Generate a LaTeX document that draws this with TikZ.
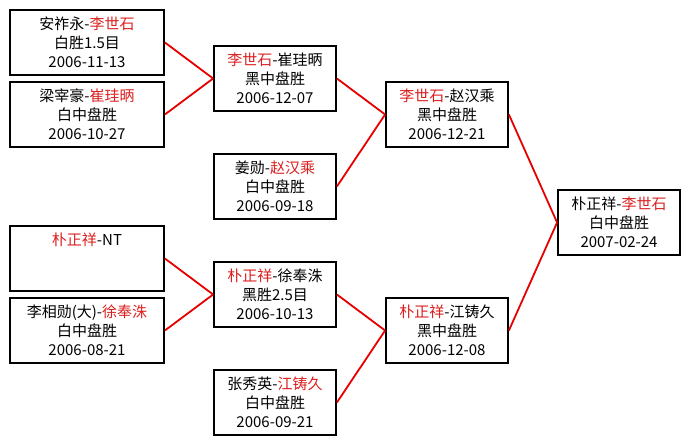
\documentclass[tikz,border=0pt]{standalone}
\usepackage{fontspec}
\usepackage{xcolor}
\usepackage{tikz}
\usetikzlibrary{positioning}
\setmainfont{Noto Sans CJK SC}
\definecolor{winnerred}{RGB}{220, 30, 30}
\definecolor{linkred}{RGB}{230, 0, 0}
\newcommand{\winner}[1]{\textcolor{winnerred}{#1}}

\begin{document}
\begin{tikzpicture}[x=1pt,y=1pt,
    game/.style={draw=black,line width=1.8pt,inner sep=0pt,align=center,
      minimum width=122pt,minimum height=65pt,font=\fontsize{15}{19}\selectfont},
    firstgame/.style={game,minimum width=154pt},
    link/.style={draw=linkred,line width=1.8pt}]
    \useasboundingbox (0,0) rectangle (691,445);

    % Round 1
    \node[firstgame] (ahn) at (87,402.5) {安祚永-\winner{李世石}\\白胜1.5目\\2006-11-13};
    \node[firstgame] (liang) at (87,330.5) {梁宰豪-\winner{崔珪昞}\\白中盘胜\\2006-10-27};
    \node[firstgame] (park) at (87,186.5) {\winner{朴正祥}-NT\\\mbox{}\\\mbox{}};
    \node[firstgame] (lee) at (87,114.5) {李相勋(大)-\winner{徐奉洙}\\白中盘胜\\2006-08-21};

    % Round 2
    \node[game] (leechoi) at (275,366.5) {\winner{李世石}-崔珪昞\\黑中盘胜\\2006-12-07};
    \node[game] (jiang) at (275,258.5) {姜勋-\winner{赵汉乘}\\白中盘胜\\2006-09-18};
    \node[game] (parkseo) at (275,150.5) {\winner{朴正祥}-徐奉洙\\黑胜2.5目\\2006-10-13};
    \node[game] (zhang) at (275,42.5) {张秀英-\winner{江铸久}\\白中盘胜\\2006-09-21};

    % Semi-finals
    \node[game] (leezhao) at (447,330.5) {\winner{李世石}-赵汉乘\\黑中盘胜\\2006-12-21};
    \node[game] (parkjiang) at (447,114.5) {\winner{朴正祥}-江铸久\\黑中盘胜\\2006-12-08};

    % Final
    \node[game] (final) at (619,222.5) {朴正祥-\winner{李世石}\\白中盘胜\\2007-02-24};

    % Bracket lines
    \draw[link] (ahn.east) -- (leechoi.west);
    \draw[link] (liang.east) -- (leechoi.west);
    \draw[link] (park.east) -- (parkseo.west);
    \draw[link] (lee.east) -- (parkseo.west);
    \draw[link] (leechoi.east) -- (leezhao.west);
    \draw[link] (jiang.east) -- (leezhao.west);
    \draw[link] (parkseo.east) -- (parkjiang.west);
    \draw[link] (zhang.east) -- (parkjiang.west);
    \draw[link] (leezhao.east) -- (final.west);
    \draw[link] (parkjiang.east) -- (final.west);
\end{tikzpicture}
\end{document}
